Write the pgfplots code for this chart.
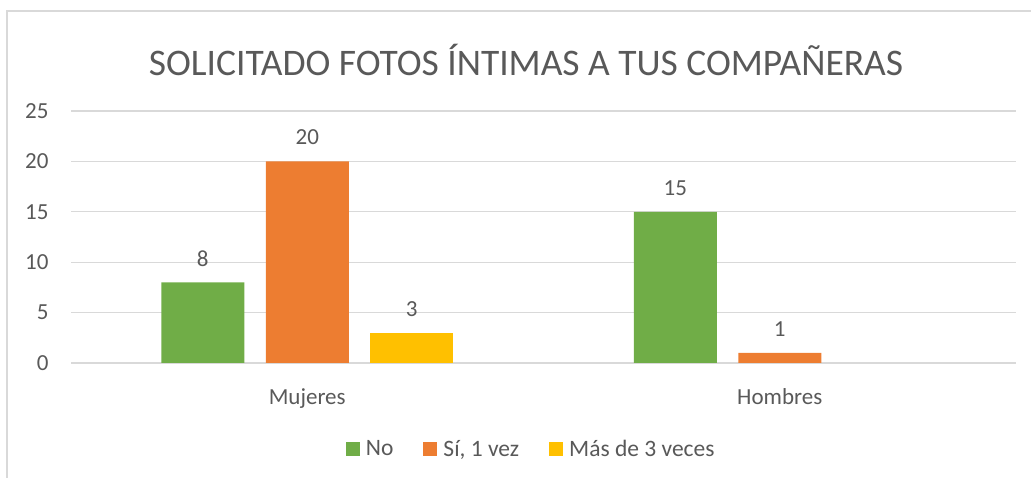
\documentclass[border=0pt]{standalone}
\usepackage{pgfplots}
\pgfplotsset{compat=1.18}
\usepackage{fontspec}
\setmainfont{Carlito}
\definecolor{cgreen}{HTML}{70AD47}
\definecolor{corange}{HTML}{ED7D31}
\definecolor{cyellow}{HTML}{FFC000}
\definecolor{ctext}{HTML}{595959}
\definecolor{cgrid}{HTML}{D9D9D9}
\begin{document}
\begin{tikzpicture}[x=1pt,y=1pt]
\path[use as bounding box] (0,0) rectangle (1031,478);
\draw[cgrid,line width=1.5pt] (7,-5) -- (7,467) -- (1040,467);
\node[text=ctext,font=\fontsize{37.5}{42}\selectfont] at (526,418) {SOLICITADO FOTOS ÍNTIMAS A TUS COMPAÑERAS};
\begin{axis}[
  at={(71pt,115pt)}, anchor=south west,
  scale only axis, width=945pt, height=252pt,
  xmin=-0.5, xmax=1.5, ymin=0, ymax=25,
  axis line style={draw=none},
  tick style={draw=none},
  ymajorgrids, grid style={cgrid, line width=1.3pt},
  ytick={0,5,10,15,20,25},
  xtick={0,1}, xticklabels={Mujeres,Hombres},
  /pgf/number format/assume math mode=true,
  ticklabel style={text=ctext, font=\fontsize{23}{26}\selectfont},
  yticklabel style={xshift=-19pt},
  xticklabel style={yshift=-18pt},
  ybar=21.5pt, bar width=83pt,
  nodes near coords,
  nodes near coords style={text=ctext, font=\fontsize{23}{26}\selectfont, anchor=center, yshift=24pt},
  legend columns=3,
  legend style={draw=none, at={(0.487,-0.341)}, anchor=center,
    font=\fontsize{23.5}{26}\selectfont, text=ctext,
    /tikz/every even column/.append style={column sep=28pt}},
  legend image code/.code={\fill[#1] (0pt,-7pt) rectangle (14pt,7pt); \path (18pt,0pt);},
]
\addplot[fill=cgreen, draw=none] coordinates {(0,8) (1,15)};
\addplot[fill=corange, draw=none] coordinates {(0,20) (1,1)};
\addplot[fill=cyellow, draw=none] coordinates {(0,3)};
\legend{No, {Sí, 1 vez}, Más de 3 veces}
\end{axis}
\end{tikzpicture}
\end{document}
